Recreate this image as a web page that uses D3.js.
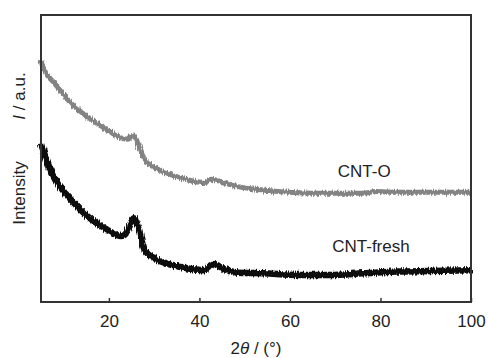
<!DOCTYPE html>
<html>
<head>
<meta charset="utf-8">
<script src="https://cdn.jsdelivr.net/npm/d3@7"></script>
<style>
  body { margin: 0; background: #fff; }
  svg text { font-family: "Liberation Sans", Arial, sans-serif; fill: #222; }
</style>
</head>
<body>
<div id="chart"></div>
<script>
// 2theta positions (deg) and intensities (arb. units, 0-100 = frame height)
var twoThetaO = [5.0, 5.4, 8.0, 11.7, 15.4, 19.1, 22.7, 24.2, 25.0, 25.5, 26.4, 27.9, 30.1, 33.8, 37.5, 41.2, 42.6, 45.6, 48.5, 54.1, 61.5, 68.9, 76.2, 79.0, 83.6, 91.0, 100.0];
var cntO = [84.0, 82.0, 76.2, 69.2, 64.4, 60.5, 57.2, 56.7, 57.8, 58.2, 55.3, 49.5, 46.9, 44.3, 42.5, 41.6, 42.8, 41.4, 40.2, 39.0, 38.1, 37.9, 37.9, 38.5, 38.2, 38.2, 38.2];

var twoThetaF = [5.0, 6.5, 8.7, 11.7, 15.4, 19.1, 22.7, 23.8, 25.0, 25.5, 26.4, 27.9, 30.1, 33.8, 37.5, 41.2, 43.0, 45.6, 48.5, 54.1, 61.5, 68.9, 76.2, 83.6, 91.0, 100.0];
var cntFresh = [55.3, 48.3, 41.4, 35.5, 29.7, 25.7, 23.0, 23.9, 28.0, 29.2, 26.2, 18.1, 15.2, 12.9, 11.7, 11.1, 13.2, 11.4, 10.2, 10.0, 9.4, 9.4, 10.0, 10.6, 10.8, 11.1];

var xTicks = [20, 40, 60, 80, 100];
var seriesNames = ["CNT-O", "CNT-fresh"];

var margin = { top: 15, right: 17, bottom: 56, left: 41 };
var width = 488 - margin.left - margin.right;
var height = 358 - margin.top - margin.bottom;

var x = d3.scaleLinear().domain([5, 100]).range([0, width]);
var y = d3.scaleLinear().domain([0, 100]).range([height, 0]);

var root = d3.select("#chart").append("svg")
    .attr("width", 488)
    .attr("height", 358);

// grainy look of the measured traces
var filt = root.append("defs").append("filter")
    .attr("id", "grain")
    .attr("x", "-5%").attr("y", "-20%")
    .attr("width", "110%").attr("height", "140%");
filt.append("feTurbulence")
    .attr("type", "fractalNoise")
    .attr("baseFrequency", "0.9 0.08")
    .attr("numOctaves", 2)
    .attr("seed", 3)
    .attr("result", "noise");
filt.append("feDisplacementMap")
    .attr("in", "SourceGraphic")
    .attr("in2", "noise")
    .attr("scale", 5)
    .attr("xChannelSelector", "G")
    .attr("yChannelSelector", "R");

var svg = root.append("g")
    .attr("transform", "translate(" + margin.left + "," + margin.top + ")");

var line = d3.line()
    .x(function (d) { return x(d[0]); })
    .y(function (d) { return y(d[1]); })
    .curve(d3.curveMonotoneX);

// traces
svg.append("path")
    .datum(d3.zip(twoThetaO, cntO))
    .attr("fill", "none")
    .attr("stroke", "#838383")
    .attr("stroke-width", 5)
    .attr("stroke-linejoin", "round")
    .attr("filter", "url(#grain)")
    .attr("d", line);

svg.append("path")
    .datum(d3.zip(twoThetaF, cntFresh))
    .attr("fill", "none")
    .attr("stroke", "#111")
    .attr("stroke-width", 6.5)
    .attr("stroke-linejoin", "round")
    .attr("filter", "url(#grain)")
    .attr("d", line);

// frame
svg.append("rect")
    .attr("x", 0).attr("y", 0)
    .attr("width", width).attr("height", height)
    .attr("fill", "none")
    .attr("stroke", "#333")
    .attr("stroke-width", 2);

// x axis: ticks point inward
var xAxis = svg.append("g")
    .attr("transform", "translate(0," + height + ")")
    .call(d3.axisBottom(x).tickValues(xTicks).tickSizeInner(-4).tickSizeOuter(0).tickPadding(13));
xAxis.select(".domain").remove();
xAxis.selectAll(".tick line").attr("stroke", "#333").attr("stroke-width", 1.5);
xAxis.selectAll(".tick text")
    .style("font-size", "17px")
    .style("font-family", "'Liberation Sans', Arial, sans-serif")
    .attr("fill", "#222");

// x title
var xt = svg.append("text")
    .attr("x", width / 2)
    .attr("y", height + 52)
    .attr("text-anchor", "middle")
    .style("font-size", "17px");
xt.append("tspan").text("2");
xt.append("tspan").style("font-style", "italic").text("θ");
xt.append("tspan").text(" / (°)");

// y title
svg.append("text")
    .attr("transform", "translate(" + (25 - margin.left) + "," + (193 - margin.top) + ") rotate(-90)")
    .attr("text-anchor", "middle")
    .style("font-size", "17px")
    .text("Intensity");

var yt = svg.append("text")
    .attr("transform", "translate(" + (25 - margin.left) + "," + (96 - margin.top) + ") rotate(-90)")
    .attr("text-anchor", "middle")
    .style("font-size", "17px");
yt.append("tspan").style("font-style", "italic").text("I");
yt.append("tspan").text(" / a.u.");

// series labels
svg.append("text")
    .attr("x", x(76.4))
    .attr("y", y(43.4))
    .attr("text-anchor", "middle")
    .style("font-size", "17px")
    .text(seriesNames[0]);

svg.append("text")
    .attr("x", x(77.9))
    .attr("y", y(17.4))
    .attr("text-anchor", "middle")
    .style("font-size", "17px")
    .text(seriesNames[1]);
</script>
</body>
</html>
